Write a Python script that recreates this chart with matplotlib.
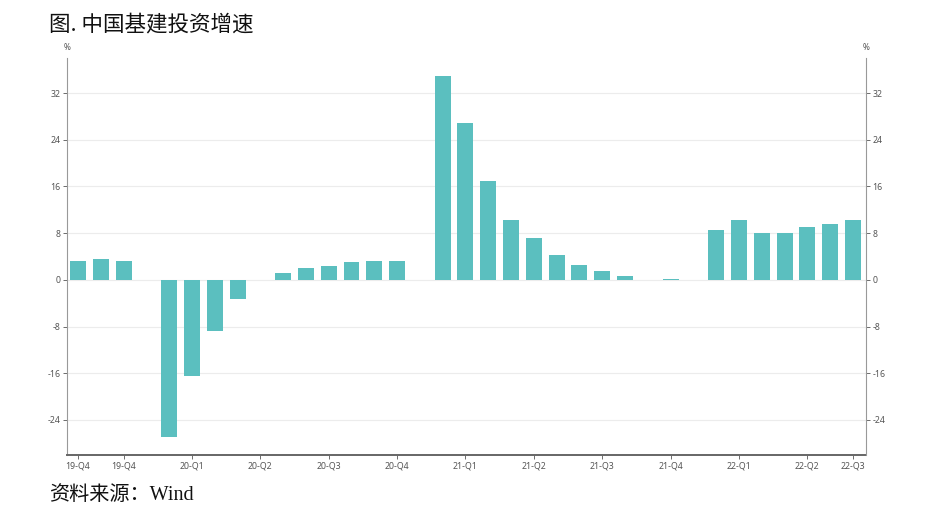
import numpy as np
import matplotlib
matplotlib.use("Agg")
import matplotlib.pyplot as plt

plt.rcParams['font.family'] = ['Noto Sans', 'Noto Sans CJK SC', 'DejaVu Sans']

# Monthly categories (Oct 2019 .. Aug 2022); January has no data
months = ['2019-10', '2019-11', '2019-12', '2020-01', '2020-02', '2020-03', '2020-04',
          '2020-05', '2020-06', '2020-07', '2020-08', '2020-09', '2020-10', '2020-11',
          '2020-12', '2021-01', '2021-02', '2021-03', '2021-04', '2021-05', '2021-06',
          '2021-07', '2021-08', '2021-09', '2021-10', '2021-11', '2021-12', '2022-01',
          '2022-02', '2022-03', '2022-04', '2022-05', '2022-06', '2022-07', '2022-08']
growth = [3.2, 3.5, 3.3, np.nan, -26.9, -16.4, -8.8,
          -3.3, -0.1, 1.1, 2.0, 2.3, 3.0, 3.2,
          3.3, np.nan, 35.0, 26.8, 16.9, 10.3, 7.1,
          4.2, 2.6, 1.5, 0.7, -0.1, 0.2, np.nan,
          8.5, 10.3, 8.1, 8.1, 9.1, 9.5, 10.2]
tick_months = ['2019-10', '2019-12', '2020-03', '2020-06', '2020-09', '2020-12', '2021-03',
               '2021-06', '2021-09', '2021-12', '2022-03', '2022-06', '2022-08']
tick_labels = ['19-Q4', '19-Q4', '20-Q1', '20-Q2', '20-Q3', '20-Q4', '21-Q1',
               '21-Q2', '21-Q3', '21-Q4', '22-Q1', '22-Q2', '22-Q3']
yticks = [-24, -16, -8, 0, 8, 16, 24, 32]

fig = plt.figure(figsize=(9.39, 5.13), dpi=100)
ax = fig.add_axes([0.0714, 0.1131, 0.8508, 0.7738])

x = np.arange(len(months))
ax.bar(x, growth, width=0.7, color='#5bbfbf', zorder=3)

ax.set_xlim(-0.48, len(months) - 1 + 0.57)
ax.set_ylim(-30, 38)
ax.set_yticks(yticks)
ax.set_yticklabels([str(v) for v in yticks])
ax.grid(axis='y', color='#ececec', linewidth=0.8, zorder=0)
pos = [months.index(m) for m in tick_months]
ax.set_xticks(pos)
ax.set_xticklabels(tick_labels)

ax2 = ax.twinx()
ax2.set_ylim(ax.get_ylim())
ax2.set_yticks(yticks)
ax2.set_yticklabels([str(v) for v in yticks])

for a in (ax, ax2):
    a.spines['top'].set_visible(False)
    a.spines['left'].set_color('#999999')
    a.spines['right'].set_color('#999999')
    a.spines['bottom'].set_color('#666666')
    a.spines['bottom'].set_linewidth(1.4)
    a.tick_params(axis='both', labelsize=6.3, colors='#555555', length=3, width=0.6, pad=1.5)
ax.spines['right'].set_visible(False)
ax2.spines['left'].set_visible(False)
ax2.spines['bottom'].set_visible(False)

fig.text(0.0714, 0.908, '%', fontsize=6, color='#555555', ha='center', va='center')
fig.text(0.9222, 0.908, '%', fontsize=6, color='#555555', ha='center', va='center')

fig.text(0.052, 0.953, '图. 中国基建投资增速', fontsize=15.5, color='#111111',
         ha='left', va='center', family=['Noto Sans CJK SC'])
fig.text(0.052, 0.035, '资料来源：Wind', fontsize=14.5, color='#111111',
         ha='left', va='center', family=['Liberation Serif', 'Noto Sans CJK SC'])

fig.savefig('out.png', dpi=100)
